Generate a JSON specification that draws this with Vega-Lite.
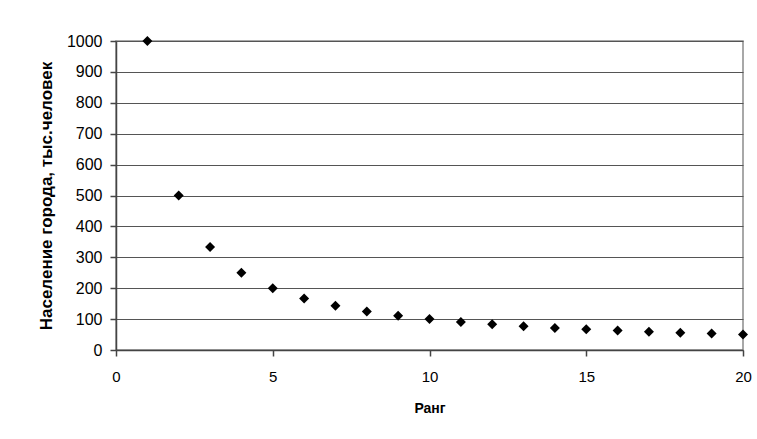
{
  "$schema": "https://vega.github.io/schema/vega-lite/v6.json",
  "autosize": {"type": "none"},
  "padding": {"left": 116, "top": 41, "right": 14, "bottom": 89},
  "width": 627,
  "height": 309,
  "background": "white",
  "config": {
    "view": {"stroke": "#8c8c8c", "strokeWidth": 1.5},
    "font": "Liberation Sans"
  },
  "data": {
    "values": [
      {"rank": 1, "pop": 1000},
      {"rank": 2, "pop": 500},
      {"rank": 3, "pop": 333},
      {"rank": 4, "pop": 250},
      {"rank": 5, "pop": 200},
      {"rank": 6, "pop": 167},
      {"rank": 7, "pop": 143},
      {"rank": 8, "pop": 125},
      {"rank": 9, "pop": 111},
      {"rank": 10, "pop": 100},
      {"rank": 11, "pop": 91},
      {"rank": 12, "pop": 83},
      {"rank": 13, "pop": 77},
      {"rank": 14, "pop": 71},
      {"rank": 15, "pop": 67},
      {"rank": 16, "pop": 63},
      {"rank": 17, "pop": 59},
      {"rank": 18, "pop": 56},
      {"rank": 19, "pop": 53},
      {"rank": 20, "pop": 50}
    ]
  },
  "mark": {"type": "point", "shape": "diamond", "filled": true, "color": "black", "size": 100, "opacity": 1, "clip": false},
  "encoding": {
    "x": {
      "field": "rank", "type": "quantitative",
      "scale": {"domain": [0, 20], "nice": false, "zero": true},
      "axis": {
        "values": [0, 5, 10, 15, 20],
        "format": "d",
        "title": "Ранг",
        "titleFontSize": 14, "titleFontWeight": "bold", "titleColor": "black",
        "titlePadding": 17,
        "labelFontSize": 15, "labelColor": "black", "labelPadding": 13,
        "labelFlush": false,
        "grid": false,
        "domainColor": "#444", "domainWidth": 1.5,
        "tickColor": "#444", "tickSize": 6, "tickWidth": 1.5
      }
    },
    "y": {
      "field": "pop", "type": "quantitative",
      "scale": {"domain": [0, 1000], "nice": false},
      "axis": {
        "values": [0, 100, 200, 300, 400, 500, 600, 700, 800, 900, 1000],
        "format": "d",
        "title": "Население города, тыс.человек",
        "titleFontSize": 17, "titleFontWeight": "bold", "titleColor": "black",
        "titlePadding": 11,
        "labelFontSize": 16, "labelColor": "black", "labelPadding": 8,
        "labelFlush": false,
        "grid": true, "gridColor": "#555", "gridWidth": 1.2,
        "domainColor": "#444", "domainWidth": 1.5,
        "tickColor": "#444", "tickSize": 6, "tickWidth": 1.5
      }
    }
  }
}
